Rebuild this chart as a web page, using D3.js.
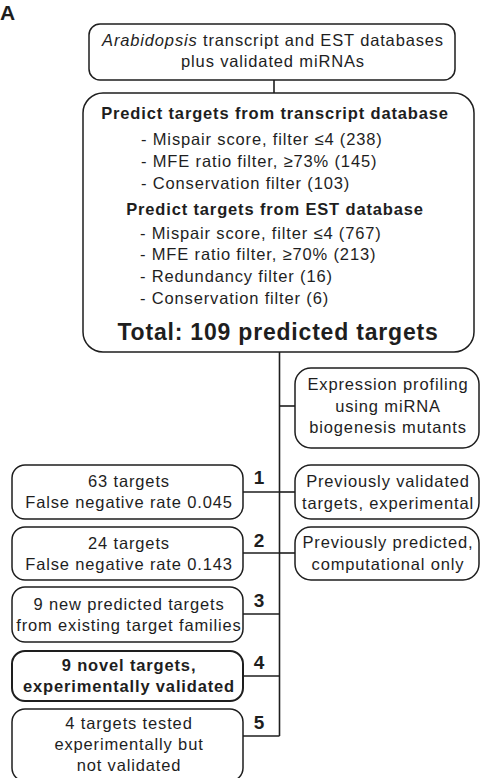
<!DOCTYPE html>
<html><head><meta charset="utf-8">
<script src="https://cdn.jsdelivr.net/npm/d3@7"></script>
<style>html,body{margin:0;padding:0;background:#fff;}svg{display:block;}</style>
</head><body>
<script>
// ---- content ----
const panelLabel = "A";
const topLines = ["Arabidopsis transcript and EST databases", "plus validated miRNAs"];
const transcriptHeader = "Predict targets from transcript database";
const transcriptFilters = ["- Mispair score, filter \u22644 (238)", "- MFE ratio filter, \u226573% (145)", "- Conservation filter (103)"];
const estHeader = "Predict targets from EST database";
const estFilters = ["- Mispair score, filter \u22644 (767)", "- MFE ratio filter, \u226570% (213)", "- Redundancy filter (16)", "- Conservation filter (6)"];
const totalLabel = "Total: 109 predicted targets";
const categoryNumbers = ["1", "2", "3", "4", "5"];
const categoryLines = [
  ["63 targets", "False negative rate 0.045"],
  ["24 targets", "False negative rate 0.143"],
  ["9 new predicted targets", "from existing target families"],
  ["9 novel targets,", "experimentally validated"],
  ["4 targets tested", "experimentally but", "not validated"]
];
const categoryBold = [false, false, false, true, false];
const sourceLines = [
  ["Expression profiling", "using miRNA", "biogenesis mutants"],
  ["Previously validated", "targets, experimental"],
  ["Previously predicted,", "computational only"]
];

// ---- layout ----
const W = 481, H = 778;
const FONT = "'Liberation Sans', Arial, sans-serif";
const ink = "#1e1e1e";
const FS = 16.5, LS = 0.85;
const svg = d3.select("body").append("svg").attr("width", W).attr("height", H);

function box(x, y, w, h, r, sw) {
  svg.append("rect").attr("x", x).attr("y", y).attr("width", w).attr("height", h)
    .attr("rx", r).attr("ry", r).attr("fill", "#fff").attr("stroke", ink).attr("stroke-width", sw || 1.5);
}
function line(x1, y1, x2, y2) {
  svg.append("line").attr("x1", x1).attr("y1", y1).attr("x2", x2).attr("y2", y2)
    .attr("stroke", ink).attr("stroke-width", 1.6);
}
function text(str, x, yc, size, weight, anchor, ls) {
  const t = svg.append("text").attr("x", x).attr("y", yc + size * 0.35)
    .attr("font-family", FONT).attr("font-size", size).attr("font-weight", weight || "normal")
    .attr("text-anchor", anchor || "middle").attr("fill", ink)
    .attr("letter-spacing", ls == null ? LS : ls)
    .text(str);
  return t;
}

// panel label
text(panelLabel, 0, 12.5, 21, "bold", "start", 0);

// connectors
const trunkX = 279.5;
line(274, 80, 274, 93);
line(trunkX, 352, trunkX, 736);

// top box
box(89, 24, 366, 56, 11);
{
  const t = svg.append("text").attr("x", 273).attr("y", 40 + FS * 0.35)
    .attr("font-family", FONT).attr("font-size", FS).attr("text-anchor", "middle").attr("fill", ink)
    .attr("letter-spacing", LS);
  const first = topLines[0];
  t.append("tspan").attr("font-style", "italic").text(first.split(" ")[0]);
  t.append("tspan").text(first.slice(first.indexOf(" ")));
  text(topLines[1], 273, 61, FS);
}

// big box
box(83, 93, 391, 259, 20);
text(transcriptHeader, 275, 113, FS, "bold");
const rowY = d3.scaleLinear().domain([0, 1]).range([139, 161]);
transcriptFilters.forEach((s, i) => text(s, 141, rowY(i), FS, "normal", "start"));
text(estHeader, 275, 209, FS, "bold");
const rowY2 = d3.scaleLinear().domain([0, 1]).range([233, 254.7]);
estFilters.forEach((s, i) => text(s, 140, rowY2(i), FS, "normal", "start"));
text(totalLabel, 278, 332, 23, "bold", "middle", 0.8);

// right source boxes
const srcBoxes = [
  {y: 368, h: 80, cy: 406},
  {y: 465, h: 54, cy: 492},
  {y: 527, h: 53, cy: 553}
];
srcBoxes.forEach((b, i) => {
  line(trunkX, b.cy, 295, b.cy);
  box(295, b.y, 184, b.h, 16);
  const n = sourceLines[i].length;
  sourceLines[i].forEach((s, j) => text(s, 388, b.cy + (j - (n - 1) / 2) * 21.5, FS));
});

// left category boxes
const catBoxes = [
  {y: 465, h: 54, cy: 492, ny: 477},
  {y: 527, h: 53, cy: 553, ny: 540},
  {y: 587, h: 55, cy: 614, ny: 600},
  {y: 651, h: 50, cy: 676, ny: 662},
  {y: 709, h: 72, cy: 736, ny: 722}
];
catBoxes.forEach((b, i) => {
  line(243, b.cy, trunkX, b.cy);
  box(12, b.y, 231, b.h, 13, categoryBold[i] ? 2 : 1.5);
  const n = categoryLines[i].length;
  const textC = i === 4 ? 744 : b.y + b.h / 2;
  categoryLines[i].forEach((s, j) => text(s, 129, textC + (j - (n - 1) / 2) * 21, FS, categoryBold[i] ? "bold" : "normal"));
  text(categoryNumbers[i], 259, b.ny, 19, "bold", "middle", 0);
});
</script>
</body></html>
